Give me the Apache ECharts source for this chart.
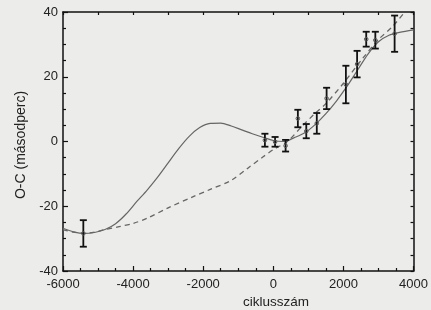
<!DOCTYPE html>
<html>
<head>
<meta charset="utf-8">
<script src="https://cdn.jsdelivr.net/npm/echarts@6/dist/echarts.min.js"></script>
<style>
  html, body { margin: 0; padding: 0; background: #ececea; }
  #chart { width: 431px; height: 310px; }
</style>
</head>
<body>
<div id="chart"></div>
<script>
// mérési pontok: ciklusszám, O-C, hiba
var cycles = [-5420, -240, 50, 350, 700, 940, 1240, 1520, 2070, 2390, 2650, 2910, 3460]
var oc = [-28.4, 0.4, -0.1, -1.3, 7.1, 3.2, 5.6, 13.3, 17.6, 23.9, 31.6, 31.3, 33.3]
var errs = [4.1, 2.0, 1.5, 1.8, 2.7, 2.2, 3.2, 3.3, 5.8, 4.1, 2.3, 2.6, 5.6]

// illesztett görbék (folytonos és szaggatott)
var solidX = [-6000, -5700, -5400, -5100, -4800, -4500, -4200, -3900, -3600, -3300, -3000, -2700, -2400, -2100, -1800, -1500, -1200, -900, -600, -300, 0, 300, 600, 900, 1200, 1500, 1800, 2100, 2400, 2700, 3000, 3300, 3600, 4000]
var solidY = [-26.8, -27.9, -28.4, -28.1, -27.2, -25.4, -22.4, -18.6, -15.0, -11.0, -6.6, -2.2, 1.6, 4.3, 5.6, 5.7, 4.8, 3.6, 2.4, 1.3, 0.3, 0.0, 1.2, 2.7, 5.3, 8.6, 12.5, 17.0, 22.0, 27.0, 30.8, 32.8, 33.7, 34.5]
var dashX = [-6000, -5700, -5400, -5100, -4800, -4400, -4000, -3600, -3000, -2300, -1800, -1200, -700, -300, 0, 400, 800, 1200, 1500, 2000, 2500, 3000, 3400, 3750]
var dashY = [-27.2, -28.0, -28.4, -28.0, -27.2, -26.3, -25.3, -23.7, -20.5, -17.1, -14.8, -12.0, -8.0, -4.8, -2.5, 0.0, 4.5, 8.8, 11.7, 18.0, 25.0, 31.5, 35.5, 40]

var xTicks = [-6000, 4000, 2000]
var yTicks = [-40, 40, 20]

function pairs(xs, ys) {
  return xs.map(function (x, i) { return [x, ys[i]] })
}

var chart = echarts.init(document.getElementById('chart'))
var ff = 'Liberation Sans, Arial, sans-serif'
var labelFont = { color: '#222', fontSize: 13, fontFamily: ff }
var axisLine = { show: true, onZero: false, lineStyle: { color: '#111', width: 1.5 } }
var plain = function (v) { return String(v) }

chart.setOption({
  backgroundColor: '#ececea',
  animation: false,
  grid: { left: 63, right: 3, top: 12, bottom: 39 },
  xAxis: [
    {
      type: 'value',
      min: xTicks[0], max: xTicks[1], interval: xTicks[2],
      axisLine: axisLine,
      axisTick: { inside: true, length: 5, lineStyle: { color: '#111', width: 1.2 } },
      minorTick: { show: true, splitNumber: 4, length: 3, lineStyle: { color: '#111', width: 1.2 } },
      axisLabel: Object.assign({ margin: 7, formatter: plain }, labelFont),
      splitLine: { show: false }
    },
    {
      type: 'value', position: 'top',
      min: xTicks[0], max: xTicks[1], interval: 1000,
      axisLine: axisLine,
      axisTick: { inside: true, length: 3, lineStyle: { color: '#111', width: 1.2 } },
      axisLabel: { show: false },
      splitLine: { show: false }
    }
  ],
  yAxis: [
    {
      type: 'value',
      min: yTicks[0], max: yTicks[1], interval: yTicks[2],
      axisLine: axisLine,
      axisTick: { inside: true, length: 5, lineStyle: { color: '#111', width: 1.2 } },
      minorTick: { show: true, splitNumber: 4, length: 3, lineStyle: { color: '#111', width: 1.2 } },
      axisLabel: Object.assign({ margin: 5, formatter: plain }, labelFont),
      splitLine: { show: false },
      name: 'O-C (másodperc)',
      nameLocation: 'middle',
      nameGap: 29,
      nameTextStyle: { color: '#222', fontSize: 14, fontFamily: ff, padding: [0, 7, 0, 0] }
    },
    {
      type: 'value', position: 'right',
      min: yTicks[0], max: yTicks[1], interval: 5,
      axisLine: axisLine,
      axisTick: { inside: true, length: 3, lineStyle: { color: '#111', width: 1.2 } },
      axisLabel: { show: false },
      splitLine: { show: false }
    }
  ],
  graphic: [
    { type: 'text', left: 243, top: 295, style: { text: 'ciklusszám', fill: '#222', fontSize: 13.5, fontFamily: ff } }
  ],
  series: [
    {
      type: 'line', smooth: 0.3, showSymbol: false,
      data: pairs(solidX, solidY),
      lineStyle: { color: '#666', width: 1.2 }
    },
    {
      type: 'line', smooth: 0.3, showSymbol: false,
      data: pairs(dashX, dashY),
      lineStyle: { color: '#666', width: 1.3, type: [5, 4] }
    },
    {
      type: 'custom',
      data: cycles.map(function (c, i) { return [c, oc[i], oc[i] - errs[i], oc[i] + errs[i]] }),
      renderItem: function (params, api) {
        var mid = api.coord([api.value(0), api.value(1)])
        var lo = api.coord([api.value(0), api.value(2)])
        var hi = api.coord([api.value(0), api.value(3)])
        var w = 3.5
        var st = { stroke: '#111', lineWidth: 1.8 }
        return {
          type: 'group',
          children: [
            { type: 'line', shape: { x1: lo[0], y1: lo[1], x2: hi[0], y2: hi[1] }, style: st },
            { type: 'line', shape: { x1: lo[0] - w, y1: lo[1], x2: lo[0] + w, y2: lo[1] }, style: st },
            { type: 'line', shape: { x1: hi[0] - w, y1: hi[1], x2: hi[0] + w, y2: hi[1] }, style: st },
            { type: 'circle', shape: { cx: mid[0], cy: mid[1], r: 1.8 }, style: { stroke: '#555', fill: 'none', lineWidth: 1 } }
          ]
        }
      },
      z: 5
    }
  ]
})
</script>
</body>
</html>
